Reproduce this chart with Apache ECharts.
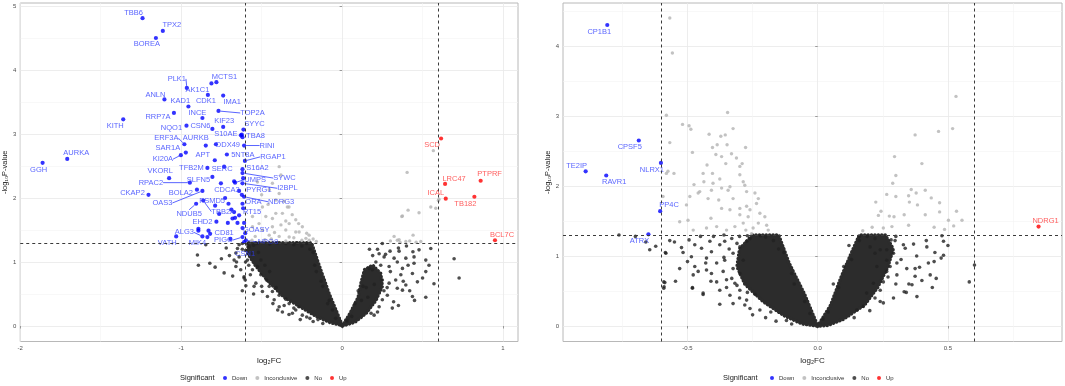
<!DOCTYPE html>
<html>
<head>
<meta charset="utf-8">
<script src="https://cdn.jsdelivr.net/npm/echarts@6/dist/echarts.min.js"></script>
<style>
  html, body { margin: 0; padding: 0; background: #fff; }
  #chart { width: 1065px; height: 386px; }
</style>
</head>
<body>
<div id="chart"></div>
<script>
// ---------- left panel ----------
// [gene, log2FC, -log10 P]
const leftDown = [
  ['TBB6', -1.240, 4.81], ['TPX2', -1.114, 4.61], ['BOREA', -1.157, 4.50],
  ['PLK1', -0.965, 3.72], ['AK1C1', -0.812, 3.79], ['MCTS1', -0.781, 3.81],
  ['CDK1', -0.834, 3.61], ['IMA1', -0.739, 3.60], ['ANLN', -1.104, 3.54],
  ['KAD1', -0.955, 3.43], ['TOP2A', -0.768, 3.36], ['RRP7A', -1.045, 3.33],
  ['INCE', -0.868, 3.25], ['KITH', -1.360, 3.23], ['NQO1', -0.967, 3.13],
  ['CSN6', -0.806, 3.08], ['KIF23', -0.739, 3.11], ['SYYC', -0.613, 3.07],
  ['S10AE', -0.629, 2.98], ['TBA8', -0.619, 2.95], ['ERF3A', -0.980, 2.84],
  ['AURKB', -0.847, 2.82], ['DDX49', -0.784, 2.84], ['RINI', -0.609, 2.82],
  ['SAR1A', -0.971, 2.71], ['KI20A', -1.002, 2.67], ['APT', -0.791, 2.59],
  ['5NT8A', -0.716, 2.68], ['RGAP1', -0.604, 2.58], ['AURKA', -1.708, 2.61],
  ['GGH', -1.861, 2.55], ['TFB2M', -0.837, 2.47], ['SERC', -0.733, 2.49],
  ['S16A2', -0.619, 2.45], ['SYWC', -0.619, 2.39], ['UMPS', -0.665, 2.24],
  ['I2BPL', -0.619, 2.23], ['PYRG1', -0.623, 2.05], ['CDCA3', -0.753, 2.23],
  ['NDRG3', -0.609, 2.02], ['ORA', -0.619, 1.91], ['RT15', -0.640, 1.73],
  ['BOLA2', -0.902, 2.13], ['OAS3', -0.868, 2.11], ['NDUB5', -0.907, 1.91],
  ['TBB2A', -0.863, 1.96], ['PSMD5', -0.789, 1.88], ['EHD2', -0.781, 1.63],
  ['CD81', -0.820, 1.44], ['ALG3', -0.868, 1.40], ['VATH', -1.031, 1.40],
  ['MIK4', -0.837, 1.39], ['PIGG', -0.619, 1.39], ['GOASY', -0.602, 1.45],
  ['NPO8', -0.598, 1.34], ['CSN1', -0.609, 1.31], ['VKORL', -1.075, 2.31],
  ['SLFN5', -0.806, 2.33], ['RPAC2', -0.946, 2.24], ['CKAP2', -1.203, 2.05],
  ['', -0.671, 2.26], ['', -0.706, 1.91], ['', -0.688, 1.82], ['', -0.671, 1.78],
  ['', -0.710, 1.61], ['', -0.681, 1.68], ['', -0.650, 1.61], ['', -0.609, 1.61],
  ['', -0.893, 1.52], ['', -0.893, 1.49], ['', -0.830, 1.49], ['', -0.694, 1.36],
  ['', -0.615, 2.31], ['', -0.615, 1.84], ['', -0.640, 2.11], ['', -0.665, 1.69],
  ['', -0.619, 1.53], ['', -0.727, 2.00], ['', -0.764, 1.75], ['', -0.623, 2.99]
];
const leftUp = [
  ['SCD', 0.615, 2.93], ['LRC47', 0.640, 2.22], ['PTPRF', 0.861, 2.27],
  ['ICAL', 0.644, 1.99], ['TB182', 0.822, 2.02], ['BCL7C', 0.950, 1.34]
];
const leftGray = [
  [-0.391, 2.49], [-0.380, 2.36], [-0.433, 2.23], [-0.391, 2.07], [-0.330, 1.86],
  [-0.288, 1.66], [-0.247, 1.55], [-0.474, 1.71], [-0.412, 1.76], [-0.350, 1.64],
  [-0.433, 1.55], [-0.495, 1.50], [-0.350, 1.50], [-0.288, 1.47], [-0.453, 1.42],
  [-0.391, 1.40], [-0.329, 1.39], [-0.205, 1.42], [-0.557, 1.55], [-0.495, 1.86],
  [-0.433, 1.68], [-0.371, 1.76], [-0.329, 1.60], [-0.267, 1.47], [-0.516, 1.60],
  [-0.557, 1.71], [-0.412, 1.97], [-0.453, 2.13], [-0.526, 2.25], [-0.340, 1.86],
  [-0.225, 1.37], [-0.205, 1.34], [-0.300, 1.38], [-0.250, 1.34], [-0.480, 1.35],
  [-0.540, 1.40], [-0.360, 1.95], [-0.310, 1.74], [-0.270, 1.60], [-0.460, 1.90],
  [-0.500, 2.05], [-0.380, 1.58], [-0.420, 1.46], [-0.560, 1.34], [-0.350, 1.33],
  [-0.440, 1.36], [-0.180, 1.36], [-0.160, 1.32], [-0.220, 1.45],
  [0.375, 1.72], [0.410, 1.81], [0.478, 1.77], [0.551, 1.86], [0.582, 1.84],
  [0.602, 1.98], [0.323, 1.40], [0.343, 1.34], [0.354, 1.35], [0.396, 1.32],
  [0.441, 1.42], [0.489, 1.32], [0.404, 2.40], [0.567, 2.74], [0.371, 1.71],
  [0.598, 1.96], [0.300, 1.33], [0.360, 1.31], [0.420, 1.33], [0.460, 1.31]
];
const leftNo = [
  [-0.899, 1.11], [-0.893, 0.95], [-0.822, 0.98], [-0.789, 0.92], [-0.733, 0.83],
  [-0.660, 0.93], [-0.656, 1.00], [-0.609, 0.75], [-0.602, 0.72], [-0.598, 0.63],
  [-0.547, 0.62], [-0.847, 1.27], [-0.640, 1.27], [-0.609, 0.77], [-0.588, 1.03],
  [-0.567, 1.14], [-0.557, 0.88], [-0.536, 0.67], [-0.505, 0.80], [-0.495, 0.54],
  [-0.464, 0.46], [-0.453, 0.62], [-0.422, 0.41], [-0.391, 0.30], [-0.371, 0.22],
  [-0.329, 0.35], [-0.288, 0.25], [-0.309, 0.20], [-0.247, 0.17], [-0.526, 0.93],
  [-0.578, 1.24], [-0.640, 1.08], [-0.505, 1.03], [-0.433, 0.54], [-0.391, 0.48],
  [-0.620, 1.29], [-0.650, 1.21], [-0.660, 1.14], [-0.671, 1.03], [-0.600, 1.18],
  [-0.580, 0.95], [-0.520, 1.15], [-0.470, 0.72], [-0.410, 0.60], [-0.350, 0.42],
  [-0.270, 0.30], [-0.200, 0.12], [-0.150, 0.10], [-0.550, 1.26], [-0.300, 1.27],
  [-0.250, 1.25], [-0.200, 1.20], [-0.170, 0.95], [-0.130, 0.70], [-0.080, 0.40],
  [-0.620, 0.55], [-0.570, 0.80], [-0.550, 0.50], [-0.500, 0.62], [-0.480, 0.95],
  [-0.450, 0.85], [-0.430, 0.35], [-0.400, 0.25], [-0.360, 0.32], [-0.330, 0.18],
  [-0.300, 0.28], [-0.260, 0.10], [-0.220, 0.14], [-0.180, 0.07], [-0.120, 0.04],
  [-0.600, 1.00], [-0.630, 0.88], [-0.680, 0.78], [-0.700, 1.10], [-0.750, 1.05],
  [-0.720, 1.22], [-0.620, 1.20], [-0.590, 1.28], [-0.530, 1.29], [-0.450, 1.28],
  [-0.400, 1.30], [-0.350, 1.29], [-0.280, 1.30], [-0.220, 1.29], [-0.180, 1.15],
  [-0.160, 0.85], [-0.120, 0.62], [-0.090, 0.35], [-0.060, 0.25], [-0.040, 0.12],
  [0.250, 1.29], [0.298, 1.17], [0.354, 1.17], [0.230, 1.13], [0.261, 1.08],
  [0.323, 1.06], [0.396, 1.06], [0.478, 1.19], [0.447, 1.08], [0.551, 1.21],
  [0.520, 1.03], [0.447, 0.98], [0.343, 1.00], [0.292, 0.93], [0.375, 0.90],
  [0.540, 0.95], [0.696, 1.05], [0.727, 0.75], [0.571, 0.66], [0.520, 0.45],
  [0.437, 0.46], [0.468, 0.69], [0.396, 0.64], [0.343, 0.59], [0.333, 0.72],
  [0.365, 0.80], [0.437, 0.82], [0.312, 0.28], [0.250, 0.41], [0.199, 0.17],
  [0.281, 0.48], [0.375, 0.56], [0.292, 0.67], [0.250, 0.72], [0.168, 0.90],
  [0.188, 0.88], [0.210, 1.00], [0.170, 1.20], [0.260, 0.55], [0.230, 0.30],
  [0.150, 0.60], [0.120, 0.40], [0.060, 0.15],
  [0.030, 0.08], [0.080, 0.35], [0.100, 0.55], [0.130, 0.62], [0.160, 0.45],
  [0.180, 0.20], [0.220, 0.22], [0.200, 0.65], [0.240, 0.95], [0.270, 1.12],
  [0.280, 0.60], [0.300, 0.85], [0.320, 0.38], [0.350, 0.32], [0.380, 0.70],
  [0.410, 0.95], [0.420, 0.55], [0.450, 0.40], [0.500, 0.75], [0.520, 0.85],
  [0.350, 1.22], [0.400, 1.25], [0.440, 1.16], [0.220, 1.20], [0.190, 1.10]
];
// outline of the solid mass of overlapping "No" points
const leftNoMass = [
  [[-0.58, 1.30], [-0.19, 1.30], [-0.15, 1.00], [-0.08, 0.50], [-0.03, 0.20], [0.00, 0.01],
   [-0.07, 0.05], [-0.16, 0.15], [-0.26, 0.30], [-0.36, 0.45], [-0.46, 0.70], [-0.54, 0.95], [-0.59, 1.15]],
  [[0.00, 0.00], [0.05, 0.20], [0.10, 0.45], [0.12, 0.70], [0.14, 0.88], [0.19, 0.95],
   [0.24, 0.82], [0.25, 0.62], [0.21, 0.40], [0.15, 0.20], [0.08, 0.06]]
];

// ---------- right panel ----------
const rightDown = [
  ['CP1B1', -0.808, 4.30], ['CPSF5', -0.687, 2.65], ['TE2IP', -0.891, 2.21],
  ['RAVR1', -0.812, 2.15], ['NLRX1', -0.602, 2.33], ['PP4C', -0.605, 1.64],
  ['ATRX', -0.650, 1.31]
];
const rightUp = [['NDRG1', 0.848, 1.42]];
const rightGray = [
  [-0.568, 4.40], [-0.558, 3.90], [-0.581, 3.01], [-0.346, 3.05], [-0.519, 2.88],
  [-0.494, 2.86], [-0.487, 2.81], [-0.325, 2.82], [-0.417, 2.74], [-0.372, 2.71],
  [-0.355, 2.73], [-0.568, 2.62], [-0.481, 2.48], [-0.404, 2.55], [-0.386, 2.59],
  [-0.348, 2.59], [-0.353, 2.32], [-0.277, 2.55], [-0.331, 2.46], [-0.312, 2.40],
  [-0.391, 2.45], [-0.369, 2.42], [-0.425, 2.30], [-0.440, 2.18], [-0.404, 2.18],
  [-0.575, 2.21], [-0.552, 2.18], [-0.290, 2.32], [-0.299, 2.28], [-0.437, 2.06],
  [-0.402, 2.04], [-0.376, 2.10], [-0.475, 2.02], [-0.337, 1.99], [-0.299, 2.16],
  [-0.286, 2.06], [-0.280, 2.01], [-0.453, 1.92], [-0.459, 1.90], [-0.408, 1.94],
  [-0.369, 1.97], [-0.344, 1.94], [-0.273, 1.92], [-0.491, 1.85], [-0.421, 1.82],
  [-0.380, 1.80], [-0.325, 1.82], [-0.241, 1.90], [-0.228, 1.82], [-0.235, 1.75],
  [-0.504, 1.73], [-0.369, 1.68], [-0.337, 1.66], [-0.299, 1.68], [-0.273, 1.71],
  [-0.260, 1.66], [-0.299, 1.59], [-0.267, 1.56], [-0.222, 1.61], [-0.203, 1.56],
  [-0.530, 1.49], [-0.498, 1.51], [-0.410, 1.54], [-0.427, 1.40], [-0.478, 1.37],
  [-0.388, 1.42], [-0.350, 1.37], [-0.318, 1.42], [-0.286, 1.47], [-0.276, 1.37],
  [-0.248, 1.40], [-0.228, 1.47], [-0.196, 1.44], [-0.190, 1.37], [-0.254, 1.32],
  [-0.594, 1.85], [-0.581, 2.18],
  [0.531, 3.28], [0.518, 2.82], [0.464, 2.78], [0.374, 2.73], [0.400, 2.32],
  [0.295, 2.42], [0.300, 2.15], [0.288, 2.04], [0.265, 1.88], [0.359, 1.95],
  [0.378, 1.90], [0.349, 1.86], [0.413, 1.94], [0.436, 1.83], [0.300, 1.85],
  [0.223, 1.77], [0.243, 1.64], [0.352, 1.77], [0.383, 1.73], [0.468, 1.76],
  [0.533, 1.64], [0.468, 1.63], [0.413, 1.59], [0.332, 1.59], [0.293, 1.56],
  [0.275, 1.57], [0.233, 1.58], [0.554, 1.51], [0.502, 1.51], [0.522, 1.43],
  [0.447, 1.41], [0.487, 1.38], [0.349, 1.44], [0.285, 1.42], [0.252, 1.40],
  [0.209, 1.41], [0.173, 1.36]
];
const rightNo = [
  [-0.568, 1.22], [-0.622, 1.14], [-0.645, 1.09], [-0.583, 1.04], [-0.523, 1.12],
  [-0.494, 1.23], [-0.472, 1.16], [-0.517, 1.05], [-0.485, 0.99], [-0.446, 1.11],
  [-0.414, 1.21], [-0.408, 1.06], [-0.376, 1.16], [-0.357, 1.21], [-0.427, 0.97],
  [-0.388, 0.90], [-0.357, 0.94], [-0.472, 0.85], [-0.427, 0.80], [-0.408, 0.75],
  [-0.363, 0.78], [-0.325, 0.82], [-0.478, 0.73], [-0.459, 0.78], [-0.388, 0.63],
  [-0.350, 0.66], [-0.318, 0.61], [-0.376, 0.51], [-0.337, 0.44], [-0.299, 0.51],
  [-0.376, 0.31], [-0.325, 0.32], [-0.481, 0.55], [-0.440, 0.47], [-0.587, 0.62],
  [-0.590, 0.56], [-0.546, 0.64], [-0.299, 0.75], [-0.286, 0.94], [-0.299, 1.13],
  [-0.325, 1.04], [-0.273, 1.21], [-0.273, 0.37], [-0.260, 0.25], [-0.222, 0.23],
  [-0.763, 1.30], [-0.585, 1.05], [-0.591, 0.63], [-0.591, 0.54], [-0.481, 0.54],
  [-0.440, 0.45], [-0.300, 1.28], [-0.260, 1.25], [-0.200, 1.27], [-0.150, 1.10],
  [-0.100, 0.75], [-0.050, 0.35], [-0.180, 0.20], [-0.120, 0.08], [-0.330, 1.25],
  [-0.240, 0.45],
  [-0.340, 1.10], [-0.360, 0.98], [-0.330, 0.68], [-0.300, 0.40], [-0.280, 0.30],
  [-0.250, 0.16], [-0.200, 0.12], [-0.160, 0.07], [-0.100, 0.03], [-0.270, 0.48],
  [-0.310, 0.58], [-0.350, 0.55], [-0.410, 0.64], [-0.430, 0.90], [-0.500, 0.92],
  [-0.530, 0.82], [-0.550, 1.20], [-0.450, 1.28], [-0.400, 1.28], [-0.360, 1.30],
  [-0.310, 1.18], [-0.270, 1.29], [-0.220, 1.29], [-0.170, 1.22], [-0.130, 1.05],
  [-0.090, 0.60], [-0.030, 0.18], [-0.660, 1.20], [-0.700, 1.28],
  [0.282, 1.23], [0.297, 1.22], [0.329, 1.16], [0.336, 1.11], [0.368, 1.17],
  [0.417, 1.22], [0.419, 1.13], [0.477, 1.29], [0.483, 1.21], [0.483, 1.01],
  [0.474, 0.97], [0.447, 0.92], [0.425, 0.90], [0.391, 0.84], [0.374, 0.82],
  [0.342, 0.82], [0.304, 0.73], [0.265, 0.78], [0.252, 0.63], [0.362, 0.59],
  [0.432, 0.73], [0.455, 0.68], [0.374, 0.71], [0.332, 0.49], [0.340, 0.48],
  [0.381, 0.42], [0.291, 0.40], [0.252, 0.33], [0.602, 0.87], [0.582, 0.63],
  [0.240, 0.51], [0.227, 0.85], [0.220, 1.04], [0.240, 1.09], [0.201, 1.13],
  [0.265, 0.94], [0.291, 1.04], [0.304, 0.90], [0.265, 1.09], [0.278, 0.85],
  [0.188, 0.47], [0.175, 0.28], [0.214, 0.61], [0.150, 0.23], [0.160, 1.28],
  [0.130, 0.95], [0.080, 0.55], [0.040, 0.20],
  [0.020, 0.10], [0.060, 0.60], [0.100, 0.85], [0.120, 1.15], [0.160, 1.22],
  [0.190, 1.28], [0.220, 1.25], [0.300, 1.28], [0.270, 0.70], [0.240, 0.35],
  [0.200, 0.22], [0.140, 0.12], [0.300, 0.60], [0.320, 0.95], [0.350, 0.60],
  [0.400, 0.65], [0.440, 0.55], [0.380, 1.00], [0.450, 1.05], [0.500, 1.15],
  [0.220, 0.40]
];
const rightNoMass = [
  [[-0.25, 1.30], [-0.15, 1.30], [-0.11, 0.90], [-0.05, 0.45], [0.00, 0.00], [-0.06, 0.03],
   [-0.13, 0.15], [-0.21, 0.35], [-0.28, 0.60], [-0.31, 0.85], [-0.30, 1.10]],
  [[0.00, 0.00], [0.05, 0.30], [0.09, 0.70], [0.13, 1.05], [0.16, 1.30], [0.26, 1.30],
   [0.29, 1.10], [0.27, 0.85], [0.23, 0.55], [0.18, 0.30], [0.10, 0.10], [0.04, 0.01]]
];

// thresholds and ticks
const fcCut = 0.6;
const pCut = 1.3;
const leftXTicks = [-2, -1, 0, 1];
const leftYTicks = [0, 1, 2, 3, 4, 5];
const rightXTicks = [-0.5, 0, 0.5];
const rightYTicks = [0, 1, 2, 3, 4];
const legendNames = ['Down', 'Inconclusive', 'No', 'Up'];

// label offsets from their point (px), like ggrepel placed them
const nudge = {
  TBB6: [-9, -5], TPX2: [9, -6], BOREA: [-9, 6], PLK1: [-10, -9], AK1C1: [-14, 6],
  MCTS1: [8, -5], CDK1: [-2, 6], IMA1: [9, 6], ANLN: [-9, -5], KAD1: [-8, -6],
  TOP2A: [34, 2], RRP7A: [-16, 4], INCE: [-5, -5], KITH: [-8, 7], NQO1: [-15, 2],
  CSN6: [-12, -3], KIF23: [1, -6], SYYC: [11, -6], S10AE: [-15, -1], TBA8: [13, -1],
  ERF3A: [-18, -6], AURKB: [-10, -8], DDX49: [12, 1], RINI: [23, 0], SAR1A: [-18, -5],
  KI20A: [-18, 4], APT: [-12, -5], '5NT8A': [16, 0], RGAP1: [28, -4], AURKA: [9, -6],
  GGH: [-4, 7], TFB2M: [-16, 0], SERC: [-2, 2], S16A2: [15, -1], SYWC: [42, 5],
  UMPS: [20, -3], I2BPL: [45, 5], PYRG1: [17, -5], CDCA3: [6, 7], NDRG3: [37, 5],
  ORA: [11, -2], RT15: [13, -3], BOLA2: [-16, 3], OAS3: [-40, 12], NDUB5: [-7, 10],
  TBB2A: [20, 11], PSMD5: [-3, -5], EHD2: [-14, 0], CD81: [14, -1], ALG3: [-18, -4],
  VATH: [-9, 7], MIK4: [-10, 6], PIGG: [-19, 3], GOASY: [11, -3], NPO8: [22, 2],
  CSN1: [1, 12], VKORL: [-9, -7], SLFN5: [-14, 3], RPAC2: [-39, 0], CKAP2: [-16, -2],
  SCD: [-9, 6], LRC47: [9, -5], PTPRF: [9, -7], ICAL: [-10, -6], TB182: [-9, 7], BCL7C: [7, -5],
  CP1B1: [-8, 7], CPSF5: [-9, 6], TE2IP: [-9, -5], RAVR1: [8, 6], NLRX1: [-9, 7],
  PP4C: [9, -6], ATRX: [-9, 7], NDRG1: [7, -6]
};
const leaders = new Set(['PLK1', 'TOP2A', 'ERF3A', 'RINI', 'KI20A', 'RGAP1', 'SYWC', 'UMPS',
  'I2BPL', 'NDRG3', 'OAS3', 'NDUB5', 'TBB2A', 'ALG3', 'PIGG', 'NPO8', 'RPAC2']);

const FONT = '"Liberation Sans", Arial, sans-serif';
const BLUE = '#0000ff', RED = '#ff0000', GREY = '#b3b3b3', BLACK = '#222222';
const BLUE_TXT = '#2e3cff', RED_TXT = '#ff3434';

function plainPoints(name, pts, color, i, size) {
  return {
    type: 'scatter', name, xAxisIndex: i, yAxisIndex: i, symbolSize: size,
    itemStyle: { color }, data: pts, silent: true
  };
}

function genePoints(name, rows, color, txt, i) {
  return {
    type: 'scatter', name, xAxisIndex: i, yAxisIndex: i, symbolSize: 4.2,
    itemStyle: { color }, silent: true,
    data: rows.map(r => ({
      name: r[0], value: [r[1], r[2]],
      labelLine: { show: leaders.has(r[0]) }
    })),
    label: {
      show: true, position: 'inside', formatter: '{b}', color: txt,
      fontSize: 7.5, fontFamily: FONT, textBorderWidth: 0
    },
    labelLine: { show: false, lineStyle: { color: txt, width: 0.8 } },
    labelLayout: p => {
      const n = nudge[p.text];
      return n ? { dx: n[0], dy: n[1] } : {};
    }
  };
}

// dense core of overlapping black points; a dotted round-capped edge keeps it grainy
function massSeries(polys, i) {
  return {
    type: 'custom', name: 'mass', xAxisIndex: i, yAxisIndex: i, silent: true,
    data: polys.map((p, k) => [k]),
    renderItem: (params, api) => ({
      type: 'polygon',
      shape: { points: polys[params.dataIndex].map(v => api.coord(v)) },
      style: {
        fill: '#2c2c2c', stroke: '#2c2c2c', lineWidth: 3.6,
        lineDash: [0.01, 3.4], lineCap: 'round'
      }
    })
  };
}

function cutLines(i) {
  return {
    type: 'scatter', name: 'cuts', xAxisIndex: i, yAxisIndex: i, data: [], silent: true,
    markLine: {
      silent: true, symbol: 'none', label: { show: false }, animation: false,
      lineStyle: { color: '#3a3a3a', width: 1, type: [3, 3] },
      data: [{ xAxis: -fcCut }, { xAxis: fcCut }, { yAxis: pCut }]
    }
  };
}

function xAxis(i, min, max, step, ticks, fmt) {
  return {
    type: 'value', gridIndex: i, min, max, minInterval: step, maxInterval: step,
    name: 'log₂FC', nameLocation: 'middle', nameGap: 10,
    nameTextStyle: { fontSize: 8, fontFamily: FONT, color: '#222' },
    axisLine: { show: false },
    axisTick: { show: true, customValues: ticks, length: 2.5, lineStyle: { color: '#999' } },
    axisLabel: { customValues: ticks, formatter: fmt, fontSize: 6, margin: 4, color: '#4d4d4d', fontFamily: FONT },
    splitLine: { show: true, lineStyle: { color: '#e8e8e8', width: 0.8 } },
    minorTick: { show: false, splitNumber: 2 },
    minorSplitLine: { show: true, lineStyle: { color: '#f3f3f3', width: 0.6 } }
  };
}

function yAxis(i, min, max, ticks, gap) {
  return {
    type: 'value', gridIndex: i, min, max, minInterval: 1, maxInterval: 1,
    name: '-log₁₀P-value', nameLocation: 'middle', nameGap: gap,
    nameTextStyle: { fontSize: 7.5, fontFamily: FONT, color: '#222' },
    axisLine: { show: false },
    axisTick: { show: true, customValues: ticks, length: 2.5, lineStyle: { color: '#999' } },
    axisLabel: { customValues: ticks, fontSize: 6, margin: 4, color: '#4d4d4d', fontFamily: FONT },
    splitLine: { show: true, lineStyle: { color: '#e8e8e8', width: 0.8 } },
    minorTick: { show: false, splitNumber: 2 },
    minorSplitLine: { show: true, lineStyle: { color: '#f3f3f3', width: 0.6 } }
  };
}

function legendAt(left) {
  return {
    left, top: 375, padding: 0, data: legendNames, icon: 'circle',
    itemWidth: 4, itemHeight: 4, itemGap: 8, selectedMode: false,
    textStyle: { fontSize: 6, color: '#333', fontFamily: FONT }
  };
}

const chart = echarts.init(document.getElementById('chart'), null, { renderer: 'canvas' });
chart.setOption({
  animation: false,
  backgroundColor: '#fff',
  title: [
    { text: 'Significant', left: 180, top: 374, padding: 0,
      textStyle: { fontSize: 7.5, fontWeight: 'normal', color: '#222', fontFamily: FONT } },
    { text: 'Significant', left: 723, top: 374, padding: 0,
      textStyle: { fontSize: 7.5, fontWeight: 'normal', color: '#222', fontFamily: FONT } }
  ],
  legend: [legendAt(223), legendAt(770)],
  grid: [
    { left: 20, top: 3, width: 498, height: 338.5, show: true, borderColor: '#b8b8b8', borderWidth: 1, backgroundColor: '#fff' },
    { left: 563, top: 3, width: 499, height: 338.5, show: true, borderColor: '#b8b8b8', borderWidth: 1, backgroundColor: '#fff' }
  ],
  xAxis: [
    xAxis(0, -2, 1.093, 1, leftXTicks, v => String(v)),
    xAxis(1, -0.978, 0.938, 0.5, rightXTicks, v => Number(v).toFixed(1))
  ],
  yAxis: [
    yAxis(0, -0.242, 5.047, leftYTicks, 10),
    yAxis(1, -0.221, 4.614, rightYTicks, 11)
  ],
  series: [
    plainPoints('No', leftNo, BLACK, 0, 3.6),
    massSeries(leftNoMass, 0),
    plainPoints('Inconclusive', leftGray, GREY, 0, 3.4),
    cutLines(0),
    genePoints('Down', leftDown, BLUE, BLUE_TXT, 0),
    genePoints('Up', leftUp, RED, RED_TXT, 0),

    plainPoints('No', rightNo, BLACK, 1, 3.6),
    massSeries(rightNoMass, 1),
    plainPoints('Inconclusive', rightGray, GREY, 1, 3.4),
    cutLines(1),
    genePoints('Down', rightDown, BLUE, BLUE_TXT, 1),
    genePoints('Up', rightUp, RED, RED_TXT, 1)
  ]
});
</script>
</body>
</html>
